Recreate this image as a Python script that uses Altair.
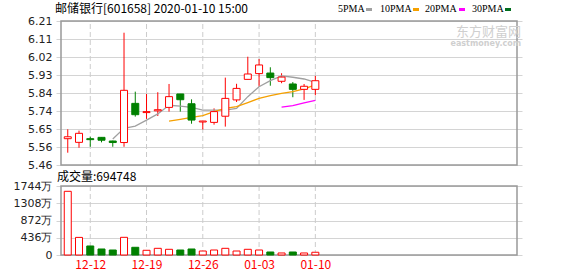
import altair as alt
import pandas as pd
import numpy as np

# ---------------- data ----------------
dates = ["12-10", "12-11", "12-12", "12-13", "12-16", "12-17", "12-18", "12-19",
         "12-20", "12-23", "12-24", "12-25", "12-26", "12-27", "12-30", "12-31",
         "01-02", "01-03", "01-06", "01-07", "01-08", "01-09", "01-10"]
opens = [5.597, 5.578, 5.597, 5.604, 5.585, 5.577, 5.781, 5.733, 5.742, 5.760, 5.830, 5.779,
         5.684, 5.682, 5.714, 5.799, 5.906, 5.936, 5.939, 5.896, 5.882, 5.854, 5.854]
highs = [5.646, 5.639, 5.607, 5.604, 5.587, 6.149, 5.842, 5.830, 5.839, 5.882, 5.830, 5.802,
         5.689, 5.755, 5.915, 5.883, 6.024, 6.012, 5.969, 5.938, 5.892, 5.882, 5.924]
lows = [5.524, 5.550, 5.555, 5.578, 5.555, 5.555, 5.712, 5.700, 5.715, 5.738, 5.738, 5.675,
        5.645, 5.670, 5.660, 5.788, 5.906, 5.868, 5.873, 5.886, 5.813, 5.799, 5.823]
closes = [5.607, 5.625, 5.592, 5.589, 5.577, 5.849, 5.722, 5.738, 5.748, 5.816, 5.800, 5.694,
          5.689, 5.738, 5.807, 5.859, 5.934, 5.981, 5.915, 5.918, 5.854, 5.870, 5.899]
volumes = [1610, 445, 228, 152, 126, 447, 195, 119, 169, 144, 126, 152,
           101, 126, 169, 101, 144, 126, 76, 51, 76, 51, 69.5]  # 万
ma5 = [5.595, 5.651, 5.663, 5.694, 5.726, 5.771, 5.767, 5.760, 5.746, 5.746,
       5.746, 5.755, 5.816, 5.868, 5.899, 5.924, 5.917, 5.908, 5.890]
ma10 = [5.689, 5.698, 5.708, 5.717, 5.738, 5.755, 5.764, 5.785, 5.807, 5.821,
        5.833, 5.842, 5.857, 5.877]
ma20 = [5.761, 5.769, 5.783, 5.797]

price_tick_labels = ["5.46", "5.56", "5.65", "5.74", "5.84", "5.93", "6.02", "6.11", "6.21"]
vol_tick_values = [0, 436, 872, 1308, 1744]
date_tick_labels = ["12-12", "12-19", "12-26", "01-03", "01-10"]

title_text = "邮储银行[601658] 2020-01-10 15:00"
volume_text = "成交量:694748"
legend_labels = ["5PMA", "10PMA", "20PMA", "30PMA"]
legend_colors = ["#a0a0a0", "#f5a000", "#ff00ff", "#006e1e"]
watermark_cn = "东方财富网"
watermark_en = "eastmoney.com"

# ---------------- styles ----------------
RED = "#ff0000"
GREEN = "#008000"
GRID = "#d4d4d4"
FRAME = "#999999"
W, H = 466, 234
PRICE_LO, PRICE_HI = float(price_tick_labels[0]), float(price_tick_labels[-1])
VOL_LO, VOL_HI = vol_tick_values[0], vol_tick_values[-1]
X_LO, X_HI = -0.6, 39.92

n = len(dates)
df = pd.DataFrame({"i": np.arange(n), "open": opens, "high": highs, "low": lows,
                   "close": closes, "vol": volumes})
df["dir"] = np.where(df["close"] >= df["open"], "up", "down")
df["zero"] = 0

date_idx = [dates.index(d) for d in date_tick_labels]

xs = alt.Scale(domain=[X_LO, X_HI], nice=False, zero=False)
ys_p = alt.Scale(domain=[PRICE_LO, PRICE_HI], range=[144, 0], nice=False, zero=False)
ys_v = alt.Scale(domain=[VOL_LO, VOL_HI], range=[234, 165], nice=False, zero=False)

step = (PRICE_HI - PRICE_LO) / (len(price_tick_labels) - 1)
price_tick_vals = [PRICE_LO + k * step for k in range(len(price_tick_labels))]
price_label_expr = ("[" + ",".join("'%s'" % s for s in price_tick_labels) + "]"
                    + "[round((datum.value-%r)/%r)]" % (PRICE_LO, step))
date_label_expr = "[" + ",".join("'%s'" % s for s in dates) + "][round(datum.value)]"

x_axis = alt.Axis(values=date_idx, labelExpr=date_label_expr, grid=False, ticks=False,
                  domain=False, labelColor=RED, labelFont="Noto Sans CJK SC",
                  labelFontSize=12, labelPadding=4, title=None, orient="bottom",
                  labelFlush=False)
yp_axis = alt.Axis(values=price_tick_vals, labelExpr=price_label_expr, grid=True,
                   gridColor=GRID, ticks=False, domain=False, labelFont="DejaVu Sans",
                   labelFontSize=11, labelColor="#222222", labelPadding=4, title=None,
                   orient="left", labelFlush=False, labelOverlap=False)
yv_axis = alt.Axis(values=vol_tick_values,
                   labelExpr="datum.value == 0 ? '0' : datum.value + '万'",
                   grid=True, gridColor=GRID, ticks=False, domain=False,
                   labelFont="DejaVu Sans", labelFontSize=11, labelColor="#222222",
                   labelPadding=4, title=None, orient="left", labelFlush=False,
                   labelOverlap=False)

X = lambda f: alt.X(f, type="quantitative", scale=xs, axis=x_axis, title=None)
YP = lambda f: alt.Y(f, type="quantitative", scale=ys_p, axis=yp_axis, title=None)
YV = lambda f: alt.Y(f, type="quantitative", scale=ys_v, axis=yv_axis, title=None)

dir_dom = ["up", "down"]
col_scale = alt.Scale(domain=dir_dom, range=[RED, GREEN])
fill_scale = alt.Scale(domain=dir_dom, range=["#ffffff", GREEN])

# ---------------- price panel ----------------
frame_p = pd.DataFrame({"x0": [X_LO], "x1": [X_HI], "lo": [PRICE_LO], "hi": [PRICE_HI]})
vgrid_p = pd.DataFrame({"i": date_idx, "lo": PRICE_LO, "hi": PRICE_HI})

p_vgrid = alt.Chart(vgrid_p).mark_rule(color="#cccccc", strokeDash=[5, 3], strokeWidth=1).encode(
    x=X("i"), y=YP("lo"), y2="hi")
p_frame = alt.Chart(frame_p).mark_rect(filled=False, color=FRAME, strokeWidth=1.5).encode(
    x=X("x0"), x2="x1", y=YP("lo"), y2="hi")


def ma_layer(vals, color):
    d = pd.DataFrame({"i": np.arange(n - len(vals), n), "v": vals})
    return alt.Chart(d).mark_line(color=color, strokeWidth=1.3).encode(x=X("i"), y=YP("v"))


p_ma5 = ma_layer(ma5, legend_colors[0])
p_ma10 = ma_layer(ma10, legend_colors[1])
p_ma20 = ma_layer(ma20, legend_colors[2])

p_wick = alt.Chart(df).mark_rule(strokeWidth=1).encode(
    x=X("i"), y=YP("low"), y2="high",
    color=alt.Color("dir:N", scale=col_scale, legend=None))
p_body = alt.Chart(df).mark_bar(size=7, strokeWidth=1, orient="vertical").encode(
    x=X("i"), y=YP("open"), y2="close",
    fill=alt.Fill("dir:N", scale=fill_scale, legend=None),
    stroke=alt.Stroke("dir:N", scale=col_scale, legend=None))

price = alt.layer(p_vgrid, p_frame, p_wick, p_ma5, p_ma10, p_ma20, p_body)

# ---------------- volume panel ----------------
frame_v = pd.DataFrame({"x0": [X_LO], "x1": [X_HI], "lo": [VOL_LO], "hi": [VOL_HI]})
vgrid_v = pd.DataFrame({"i": date_idx, "lo": VOL_LO, "hi": VOL_HI})

v_vgrid = alt.Chart(vgrid_v).mark_rule(color="#cccccc", strokeDash=[5, 3], strokeWidth=1).encode(
    x=X("i"), y=YV("lo"), y2="hi")
v_frame = alt.Chart(frame_v).mark_rect(filled=False, color=FRAME, strokeWidth=1.5).encode(
    x=X("x0"), x2="x1", y=YV("lo"), y2="hi")
v_bars = alt.Chart(df).mark_bar(size=7, strokeWidth=1, orient="vertical").encode(
    x=X("i"), y=YV("vol"), y2="zero",
    fill=alt.Fill("dir:N", scale=fill_scale, legend=None),
    stroke=alt.Stroke("dir:N", scale=col_scale, legend=None))

volume = alt.layer(v_vgrid, v_frame, v_bars)

# ---------------- texts ----------------
t_title = alt.Chart(alt.Data(values=[{"t": title_text}])).mark_text(
    align="left", baseline="alphabetic", font="Noto Sans CJK SC", fontSize=12, color="#000000"
).encode(x=alt.value(-1), y=alt.value(-8), text="t:N")
t_vol = alt.Chart(alt.Data(values=[{"t": volume_text}])).mark_text(
    align="left", baseline="alphabetic", font="Noto Sans CJK SC", fontSize=12, color="#000000"
).encode(x=alt.value(1), y=alt.value(160), text="t:N")
t_wm1 = alt.Chart(alt.Data(values=[{"t": watermark_cn}])).mark_text(
    align="right", baseline="alphabetic", font="Noto Sans CJK SC", fontSize=13, color="#cfcfcf"
).encode(x=alt.value(465), y=alt.value(15), text="t:N")
t_wm2 = alt.Chart(alt.Data(values=[{"t": watermark_en}])).mark_text(
    align="right", baseline="alphabetic", font="DejaVu Sans", fontSize=8, fontWeight="bold",
    color="#cfcfcf"
).encode(x=alt.value(465), y=alt.value(25), text="t:N")

legend_text_x = [282, 324, 369, 416]
legend_sq_x = [310, 357, 403, 449]
legend_layers = []
for lab, col, tx, sx in zip(legend_labels, legend_colors, legend_text_x, legend_sq_x):
    legend_layers.append(alt.Chart(alt.Data(values=[{"t": lab}])).mark_text(
        align="left", baseline="alphabetic", font="Liberation Serif", fontSize=10,
        color="#000000").encode(x=alt.value(tx), y=alt.value(-9), text="t:N"))
    legend_layers.append(alt.Chart(alt.Data(values=[{"t": lab}])).mark_rect(color=col).encode(
        x=alt.value(sx), x2=alt.value(sx + 6), y=alt.value(-13), y2=alt.value(-10)))

chart = alt.layer(price, volume, t_title, t_vol, t_wm1, t_wm2, *legend_layers).resolve_scale(
    y="independent"
).properties(
    width=W, height=H,
    autosize=alt.AutoSizeParams(type="none"),
    padding={"left": 56, "top": 21, "right": 56, "bottom": 21},
    background="#ffffff",
).configure_view(stroke=None)

chart.save("out.html", embed_options={"renderer": "svg", "actions": False})
